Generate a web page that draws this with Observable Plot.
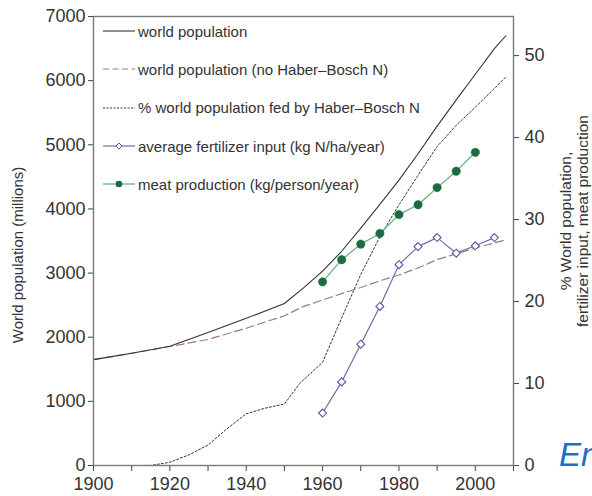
<!DOCTYPE html>
<html>
<head>
<meta charset="utf-8">
<script src="https://cdn.jsdelivr.net/npm/d3@7"></script>
<script src="https://cdn.jsdelivr.net/npm/@observablehq/plot@0.6"></script>
<style>
  html, body { margin: 0; padding: 0; background: #fff; overflow: hidden; }
  #wrap { position: relative; width: 592px; height: 496px; font-family: "Liberation Sans", Arial, Helvetica, sans-serif; color: #333; }
  #chart { position: absolute; left: 0; top: 0; }
  .legend { position: absolute; left: 103px; top: 12px; font-size: 15px; }
  .legend .row { height: 38.3px; display: flex; align-items: center; white-space: nowrap; }
  .legend svg { width: 32px; height: 12px; margin-right: 3px; }
  .ylabL { position: absolute; left: -112px; top: 245px; width: 260px; height: 20px; text-align: center; font-size: 15px; transform: rotate(-90deg); line-height: 20px; white-space: nowrap; }
  .ylabR { position: absolute; left: 445px; top: 204px; width: 260px; height: 34px; text-align: center; font-size: 15.5px; transform: rotate(-90deg); line-height: 16.5px; white-space: nowrap; }
  .en { position: absolute; left: 559px; top: 438px; font-size: 33px; font-style: italic; color: #1a6ecb; line-height: 33px; white-space: nowrap; }
</style>
</head>
<body>
<div id="wrap">
  <div id="chart"></div>
  <div class="ylabL">World population (millions)</div>
  <div class="ylabR">% World population,<br>fertilizer input, meat production</div>
  <div class="en">En</div>
  <div class="legend" id="legend"></div>
</div>
<script>
// ---------- data ----------
const popYears  = [1900, 1910, 1920, 1930, 1940, 1950, 1955, 1960, 1965, 1970, 1975, 1980, 1985, 1990, 1995, 2000, 2005, 2008];
const popValues = [1650, 1750, 1860, 2075, 2295, 2525, 2770, 3030, 3340, 3700, 4070, 4450, 4860, 5290, 5700, 6100, 6500, 6700];

const noHBYears  = [1900, 1910, 1920, 1930, 1940, 1950, 1955, 1960, 1965, 1970, 1975, 1980, 1985, 1990, 1995, 2000, 2005, 2008];
const noHBValues = [1650, 1750, 1855, 1965, 2140, 2335, 2480, 2580, 2680, 2775, 2880, 2970, 3080, 3210, 3300, 3390, 3470, 3515];

const hbYears  = [1900, 1910, 1915, 1920, 1925, 1930, 1935, 1940, 1945, 1950, 1954, 1960, 1965, 1970, 1975, 1980, 1985, 1990, 1995, 2000, 2005, 2008];
const hbValues = [0, 0, 0, 0.4, 1.3, 2.5, 4.5, 6.3, 7.0, 7.5, 10.0, 12.6, 18.0, 23.3, 27.9, 31.8, 35.4, 38.9, 41.5, 43.7, 46.0, 47.4];

const fertYears  = [1960, 1965, 1970, 1975, 1980, 1985, 1990, 1995, 2000, 2005];
const fertValues = [6.4, 10.2, 14.8, 19.4, 24.5, 26.7, 27.8, 25.9, 26.8, 27.8];

const meatYears  = [1960, 1965, 1970, 1975, 1980, 1985, 1990, 1995, 2000];
const meatValues = [22.4, 25.1, 27.0, 28.3, 30.6, 31.8, 33.9, 35.9, 38.2];

const xTicks = [1900, 1910, 1920, 1930, 1940, 1950, 1960, 1970, 1980, 1990, 2000, 2010];
const xLabels = [1900, 1920, 1940, 1960, 1980, 2000];
const leftTicks = [0, 1000, 2000, 3000, 4000, 5000, 6000, 7000];
const rightTicks = [0, 10, 20, 30, 40, 50];

const legendLabels = [
  "world population",
  "world population (no Haber\u2013Bosch N)",
  "% world population fed by Haber\u2013Bosch N",
  "average fertilizer input (kg N/ha/year)",
  "meat production (kg/person/year)"
];

// ---------- scales ----------
const leftMax = 7000;
const rightMax = 54.77;           // right axis value at the top of the frame
const k = leftMax / rightMax;     // right-axis units -> left-axis units

const pop  = popYears.map((x, i) => ({x, y: popValues[i]}));
const noHB = noHBYears.map((x, i) => ({x, y: noHBValues[i]}));
const hb   = hbYears.map((x, i) => ({x, y: hbValues[i] * k}));
const fert = fertYears.map((x, i) => ({x, y: fertValues[i] * k}));
const meat = meatYears.map((x, i) => ({x, y: meatValues[i] * k}));

const C = {
  pop: "#333",
  noHB: "#a37b72",
  hb: "#333",
  fertLine: "#6d70a8",
  fertDot: "#5558a0",
  meatLine: "#5fae7c",
  meatDot: "#1d6a43"
};

const chart = Plot.plot({
  width: 592,
  height: 496,
  marginLeft: 93,
  marginRight: 79,
  marginTop: 16,
  marginBottom: 31,
  style: {fontFamily: "'Liberation Sans', Arial, Helvetica, sans-serif", fontSize: "18px", color: "#333", background: "transparent"},
  x: {domain: [1900, 2010]},
  y: {domain: [0, leftMax]},
  marks: [
    Plot.axisX(xTicks, {tickSize: 6, tickPadding: 6, label: null, stroke: "#444", fontSize: 18,
      tickFormat: d => xLabels.includes(d) ? String(d) : ""}),
    Plot.axisY(leftTicks, {tickSize: 5, tickPadding: 3, label: null, stroke: "#444", fontSize: 18, tickFormat: d => String(d)}),
    Plot.axisY(rightTicks.map(v => v * k), {anchor: "right", tickSize: 5, tickPadding: 6, label: null, stroke: "#444", fontSize: 18,
      tickFormat: d => String(Math.round(d / k))}),
    Plot.lineY(hb, {x: "x", y: "y", stroke: C.hb, strokeWidth: 1, strokeDasharray: "2,2"}),
    Plot.lineY(noHB, {x: "x", y: "y", stroke: C.noHB, strokeWidth: 1.2, strokeDasharray: "8,4"}),
    Plot.lineY(pop, {x: "x", y: "y", stroke: C.pop, strokeWidth: 1.1}),
    Plot.lineY(fert, {x: "x", y: "y", stroke: C.fertLine, strokeWidth: 1.2}),
    Plot.dot(fert, {x: "x", y: "y", symbol: "diamond2", r: 3.6, stroke: C.fertDot, strokeWidth: 1.1, fill: "white"}),
    Plot.lineY(meat, {x: "x", y: "y", stroke: C.meatLine, strokeWidth: 1.2}),
    Plot.dot(meat, {x: "x", y: "y", r: 4.2, fill: C.meatDot, stroke: C.meatDot, strokeWidth: 0.5}),
    Plot.frame({stroke: "#7a7a7a", strokeWidth: 1.4})
  ]
});
document.getElementById("chart").appendChild(chart);

// ---------- legend ----------
const samples = [
  `<line x1="0" x2="32" y1="6" y2="6" stroke="${C.pop}" stroke-width="1.1"/>`,
  `<line x1="0" x2="32" y1="6" y2="6" stroke="${C.noHB}" stroke-width="1.2" stroke-dasharray="6,3.5"/>`,
  `<line x1="0" x2="32" y1="6" y2="6" stroke="${C.hb}" stroke-width="1" stroke-dasharray="2,1.5"/>`,
  `<line x1="0" x2="32" y1="6" y2="6" stroke="${C.fertLine}" stroke-width="1.2"/><path d="M16,3 L19,6 L16,9 L13,6 Z" fill="white" stroke="${C.fertDot}" stroke-width="1"/>`,
  `<line x1="0" x2="32" y1="6" y2="6" stroke="${C.meatLine}" stroke-width="1.2"/><circle cx="16" cy="6" r="3.3" fill="${C.meatDot}"/>`
];
const leg = document.getElementById("legend");
legendLabels.forEach((t, i) => {
  const row = document.createElement("div");
  row.className = "row";
  row.innerHTML = `<svg viewBox="0 0 32 12">${samples[i]}</svg><span>${t}</span>`;
  leg.appendChild(row);
});
</script>
</body>
</html>
